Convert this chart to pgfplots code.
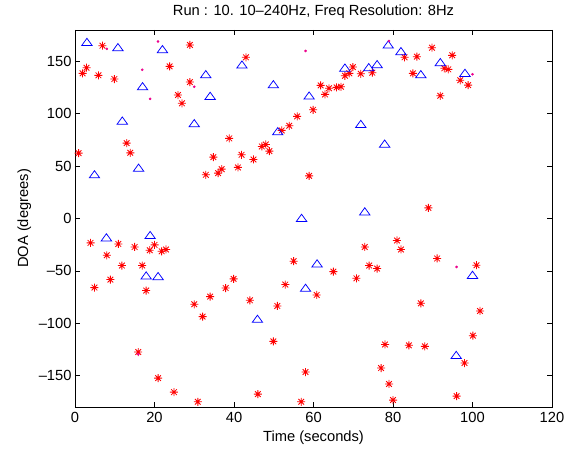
\documentclass[border=0pt]{standalone}
\usepackage{fontspec}
\setmainfont{Liberation Sans}
\usepackage{pgfplots}
\pgfplotsset{compat=1.18}
\pgfdeclareplotmark{mstar}{%
  \pgfpathmoveto{\pgfqpoint{-\pgfplotmarksize}{0pt}}\pgfpathlineto{\pgfqpoint{\pgfplotmarksize}{0pt}}%
  \pgfpathmoveto{\pgfqpoint{0pt}{-\pgfplotmarksize}}\pgfpathlineto{\pgfqpoint{0pt}{\pgfplotmarksize}}%
  \pgfpathmoveto{\pgfqpoint{-0.707\pgfplotmarksize}{-0.707\pgfplotmarksize}}\pgfpathlineto{\pgfqpoint{0.707\pgfplotmarksize}{0.707\pgfplotmarksize}}%
  \pgfpathmoveto{\pgfqpoint{-0.707\pgfplotmarksize}{0.707\pgfplotmarksize}}\pgfpathlineto{\pgfqpoint{0.707\pgfplotmarksize}{-0.707\pgfplotmarksize}}%
  \pgfusepathqstroke}
\pgfplotstableread{
x y
6.9 165
1.9 138.6
2.9 144
5.9 136.7
9.9 133.2
23.8 145.3
28.9 165.7
28.9 130.3
25.9 117.9
26.9 110
0.9 62.4
13 72
13.9 62.7
32.9 41.7
34.8 58.6
36 43.3
36.9 47.1
38.8 76.5
43 153.9
61.8 127.1
62.9 118.5
63.9 124.3
65.8 125.2
66.9 125.8
67.9 136.3
69 138.6
69.9 144.6
71.9 138.2
74.8 139.2
59.9 103.8
55.9 97.5
53.9 88.5
52 84.1
47 68.8
48 70.7
48.9 64.3
41.9 60.8
44.9 56.4
41 48.8
58.9 40.7
82.9 153.9
86 154.5
89.8 163.1
94.9 155.8
92.9 143.4
93.9 142.4
85 138.6
96.9 132
98.9 127.4
91.9 117.2
88.9 10.1
3.9 -23.3
10.9 -24.3
15 -27.2
20 -25.2
18.8 -30.3
21.8 -31.3
22.9 -29.6
8 -35.1
11.8 -44.9
16.9 -44.9
8.9 -58.3
4.9 -66
17.9 -68.8
37.9 -66.4
34 -74.6
30 -81.9
32.1 -93.7
15.9 -127.5
20.9 -152.4
24.9 -165.8
30.9 -175
72.9 -27.2
74 -44.9
76 -47.8
70.8 -57.1
65 -50.7
55 -40.8
52.9 -63.1
60.8 -73
39.9 -57.7
44 -78.1
50.9 -83.5
49.9 -117.3
58 -146.6
46 -167.7
56.9 -175
78 -120.3
77 -142.8
79 -158
81 -21
82 -29.6
91.1 -38.2
101 -44.6
87 -81
101.9 -88.3
100.1 -111.9
84 -121.1
88 -122.1
98 -138
96 -169.6
80 -173.4
}\stars
\pgfplotstableread{
x y
3 167.5
10.8 162.5
22 160.6
17 125.2
32.9 136.7
34 116
11.9 92.4
30 89.9
4.9 41.1
16 47.4
42 145.9
49.9 127.1
58.9 116.3
67.9 143
73.9 143.4
76 146.3
78.8 165
82 158.7
91.9 148.2
87 136.7
98.1 138
51 82.2
71.9 89.2
77.9 70.4
72.9 5.7
57 -0.5
7.9 -19.1
18.9 -16.9
17.9 -55.5
20.9 -56.1
60.9 -44
58 -67.3
45.9 -96.9
100 -54.9
95.9 -131.4
}\tris
\pgfplotstableread{
x y
8.0 162
20.9 169
16.9 142
30 125.8
18.9 114.3
58 160
79 169.5
100 137.7
96 -46.3
15.9 -129.7
}\dots
\begin{document}
\begin{tikzpicture}
\begin{axis}[
  scale only axis, width=477pt, height=377pt,
  xmin=0, xmax=120, ymin=-180, ymax=180,
  xtick={0,20,...,120}, ytick={-150,-100,...,150},
  yticklabels={–150,–100,–50,0,50,100,150},
  /pgf/number format/assume math mode=true,
  tick label style={font=\fontsize{14.7}{17}\selectfont},
  xticklabel style={anchor=north, yshift=-2pt},
  title style={font=\fontsize{14.7}{17}\selectfont, at={(axis description cs:0.5,1)}, anchor=base, yshift=8.5pt},
  title={Run : 10. 10–240Hz, Freq Resolution: 8Hz},
  xlabel={Time (seconds)}, ylabel={DOA (degrees)},
  xlabel style={font=\fontsize{14.7}{17}\selectfont, at={(axis description cs:0.5,-0.092)}, anchor=base},
  ylabel style={font=\fontsize{14.7}{17}\selectfont, at={(axis description cs:-0.106,0.5)}, anchor=center},
  major tick length=5pt,
  axis line style={line width=0.8pt}, every tick/.style={line width=0.6pt, black},
  clip=false,
]
\addplot[only marks, mark=mstar, mark size=4pt, color=red, line width=0.85pt] table {\stars};
\addplot[only marks, mark=triangle, mark size=6pt, mark options={yscale=0.8}, color=blue, line width=0.75pt] table {\tris};
\addplot[only marks, mark=*, mark size=1.1pt, color=magenta] table {\dots};
\end{axis}
\path ([shift={(-75pt,-43pt)}]current axis.south west) rectangle ([shift={(22pt,30pt)}]current axis.north east);
\end{tikzpicture}
\end{document}
